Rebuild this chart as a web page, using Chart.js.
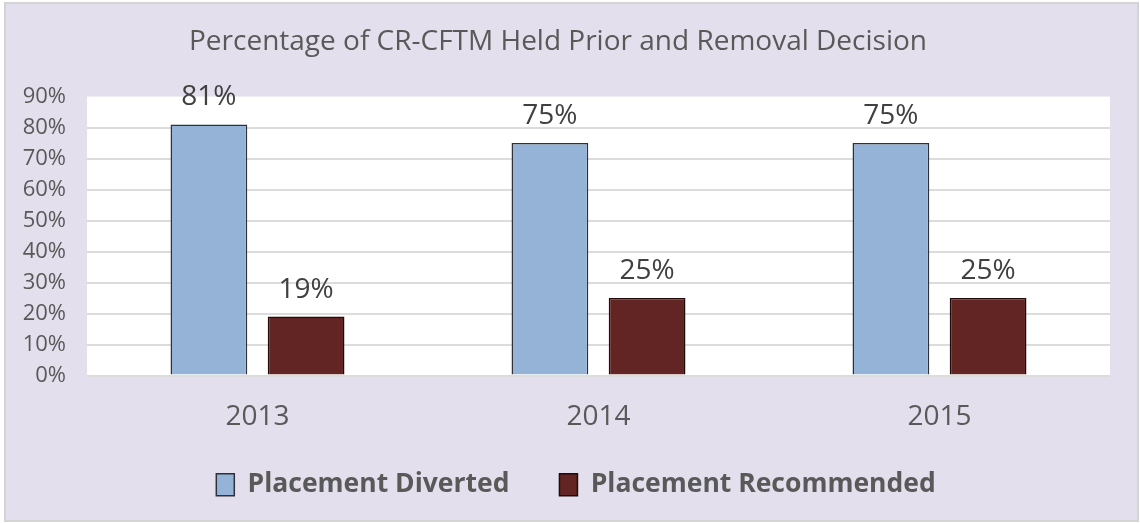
<!DOCTYPE html>
<html>
<head>
<meta charset="utf-8">
<script src="https://cdn.jsdelivr.net/npm/chart.js@4.4.0/dist/chart.umd.min.js"></script>
<style>
  html, body { margin: 0; padding: 0; background: #ffffff; }
  #wrap {
    position: absolute; left: 4px; top: 2px;
    width: 1135px; height: 520px; box-sizing: border-box;
    border: 2px solid #d4d4d4; background: #e4dfec;
  }
  #chart { display: block; }
</style>
</head>
<body>
<div id="wrap"><canvas id="chart" width="1131" height="516"></canvas></div>
<script>
const years = ["2013", "2014", "2015"];
const diverted = [81, 75, 75];
const recommended = [19, 25, 25];
const yTicks = { min: 0, max: 90, step: 10 };

const FONT = "'Open Sans', 'Liberation Sans', sans-serif";
const TEXT = "#595959";

// white plot background
const plotBg = {
  id: "plotBg",
  beforeDraw(chart) {
    const a = chart.chartArea, c = chart.ctx;
    c.save();
    c.fillStyle = "#ffffff";
    c.fillRect(a.left, a.top, a.right - a.left, a.bottom - a.top);
    c.restore();
  }
};

// x labels run into the legend box a bit, so don't let the axis box clip them;
// the legend also sits a little right of the title in the original
const tweakLayout = {
  id: "tweakLayout",
  afterLayout(chart) {
    const x = chart.scales.x;
    x.bottom = x.top + 70;
    chart.legend.left += 18;
    chart.legend.right += 18;
  }
};

// value labels above bars
const valueLabels = {
  id: "valueLabels",
  afterDatasetsDraw(chart) {
    const c = chart.ctx;
    c.save();
    c.font = "28px " + FONT;
    c.fillStyle = "#404040";
    c.textAlign = "center";
    c.textBaseline = "alphabetic";
    chart.data.datasets.forEach((ds, i) => {
      chart.getDatasetMeta(i).data.forEach((el, j) => {
        c.fillText(ds.data[j] + "%", el.x, el.y - 19);
      });
    });
    c.restore();
  }
};

new Chart(document.getElementById("chart").getContext("2d"), {
  type: "bar",
  data: {
    labels: years,
    datasets: [{
      label: "Placement Diverted",
      data: diverted,
      backgroundColor: "#95b3d7",
      borderColor: "#2e3238",
      borderWidth: 1.5
    }, {
      label: "Placement Recommended",
      data: recommended,
      backgroundColor: "#632523",
      borderColor: "#200b0a",
      borderWidth: 1.5
    }]
  },
  options: {
    responsive: false,
    animation: false,
    categoryPercentage: 0.57,
    barPercentage: 0.79,
    layout: { padding: { left: 0, right: 27, top: 0, bottom: 12 } },
    plugins: {
      tooltip: { enabled: false },
      title: {
        display: true,
        text: "Percentage of CR-CFTM Held Prior and Removal Decision",
        color: TEXT,
        font: { family: FONT, size: 28, weight: "normal" },
        padding: { top: 21, bottom: 38 }
      },
      legend: {
        position: "bottom",
        labels: {
          color: TEXT,
          font: { family: FONT, size: 26.5, weight: "bold" },
          boxWidth: 18,
          boxHeight: 22,
          padding: 50
        }
      }
    },
    scales: {
      x: {
        grid: { display: false, drawTicks: false },
        border: { display: false },
        ticks: { color: TEXT, font: { family: FONT, size: 28 }, padding: 25 },
        afterFit(s) { s.height = 46; }
      },
      y: {
        min: yTicks.min,
        max: yTicks.max,
        grid: {
          drawTicks: false,
          lineWidth: 2,
          color: (ctx) => ctx.tick && ctx.tick.value === yTicks.max ? "rgba(0,0,0,0)" : "#dcdcdc"
        },
        border: { display: false },
        ticks: {
          stepSize: yTicks.step,
          color: TEXT,
          font: { family: FONT, size: 22 },
          padding: 21,
          callback: (v) => v + "%"
        },
        afterFit(s) { s.width = 81; }
      }
    }
  },
  plugins: [plotBg, tweakLayout, valueLabels]
});
</script>
</body>
</html>
